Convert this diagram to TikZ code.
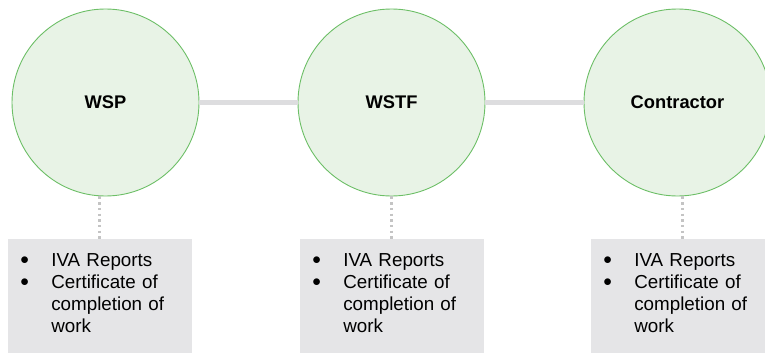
\documentclass[tikz,border=0pt]{standalone}
\usepackage{fontspec}
\setmainfont{Liberation Sans}
\usepackage{tikz}
\usetikzlibrary{positioning, calc}
\definecolor{partyfill}{HTML}{E8F3E6}
\definecolor{partyline}{HTML}{6DBF67}
\definecolor{linkgray}{HTML}{DDDDDF}
\definecolor{tiegray}{HTML}{C4C4C4}
\definecolor{boxgray}{HTML}{E5E5E7}
\newcommand{\bul}{\makebox[30.3pt][l]{\hspace*{-0.6pt}\raisebox{2pt}{$\bullet$}}}
\newcommand{\ind}{\hspace*{30.3pt}}

\begin{document}
\begin{tikzpicture}[
    x=1pt, y=-1pt,
    party/.style={circle, draw=partyline, fill=partyfill, line width=0.9pt, minimum size=187pt, inner sep=0pt, font=\fontsize{18.3}{22}\selectfont\bfseries},
    infobox/.style={rectangle, fill=boxgray, anchor=north, text width=157pt, inner xsep=13.5pt, inner ysep=14pt, text depth=86pt, align=left, font=\fontsize{18.8}{22}\selectfont},
    link/.style={draw=linkgray, line width=5.5pt},
    tie/.style={draw=tiegray, line width=2.4pt, dash pattern=on 2.4pt off 3.3pt},
]
    \useasboundingbox (0,0) rectangle (765,353);
    \clip (0,0) rectangle (765,353);

    % parties
    \node[party] (wsp) at (105.5, 102.5) {WSP};
    \node[party] (wstf) at (391.5, 102.5) {WSTF};
    \node[party] (contractor) at (677.5, 102.5) {Contractor};

    % links between parties
    \draw[link] (wsp) -- (wstf);
    \draw[link] (wstf) -- (contractor);

    % documents
    \node[infobox] (wspbox) at (99.5, 239) {\bul IVA Reports\\\bul Certificate of\\\ind completion of\\\ind work};
    \node[infobox] (wstfbox) at (391.5, 239) {\bul IVA Reports\\\bul Certificate of\\\ind completion of\\\ind work};
    \node[infobox] (contractorbox) at (682.5, 239) {\bul IVA Reports\\\bul Certificate of\\\ind completion of\\\ind work};

    % ties to documents
    \draw[tie] (wsp.south -| wspbox.north) -- (wspbox.north);
    \draw[tie] (wstf) -- (wstfbox);
    \draw[tie] (contractor.south -| contractorbox.north) -- (contractorbox.north);

\end{tikzpicture}
\end{document}
